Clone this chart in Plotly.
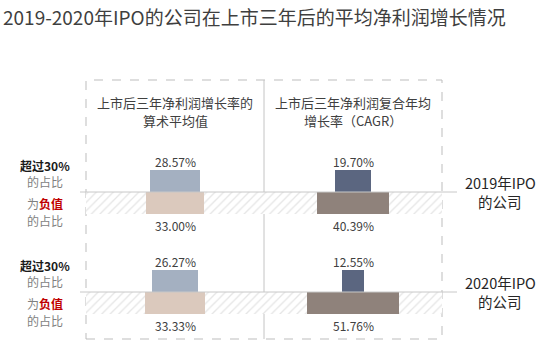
import plotly.graph_objects as go

# --- data -------------------------------------------------------------
columns = [["上市后三年净利润增长率的", "算术平均值"],
           ["上市后三年净利润复合年均", "增长率（CAGR）"]]
rows = [["2019年IPO", "的公司"], ["2020年IPO", "的公司"]]
share_over_30 = [[28.57, 19.70], [26.27, 12.55]]   # 超过30%的占比
share_negative = [[33.00, 40.39], [33.33, 51.76]]  # 为负值的占比

title = "2019-2020年IPO的公司在上市三年后的平均净利润增长情况"

# --- styling ----------------------------------------------------------
top_colors = ["#a4b0c1", "#5b6680"]
bottom_colors = ["#dbc9bd", "#8f827b"]
FONT = "Noto Sans CJK SC, Microsoft YaHei, sans-serif"
TEXT = "#404040"

W, H = 550, 345
PX_PER_UNIT = 1.78          # horizontal pixels per percentage point
X0_PX = 86                  # left edge of the framed panel
col_centers = [50, 150]     # each column is 100 units wide
baselines = [153, 53]       # y measured in pixels from the bottom
BAR_H = 22

fig = go.Figure()

# hatched strip for the "negative" band of each row
for b in baselines:
    fig.add_trace(go.Bar(
        x=[100], y=[BAR_H], base=[b - BAR_H], width=[200],
        marker=dict(color="white", line=dict(width=0),
                    pattern=dict(shape="/", fgcolor="#cccccc", bgcolor="white",
                                 size=6, solidity=0.22)),
        hoverinfo="skip", showlegend=False))

# proportional-width bars
for r, b in enumerate(baselines):
    for c, xc in enumerate(col_centers):
        v_top = share_over_30[r][c]
        v_bot = share_negative[r][c]
        fig.add_trace(go.Bar(
            x=[xc], y=[BAR_H], base=[b], width=[v_top],
            marker=dict(color=top_colors[c], line=dict(width=0)),
            hoverinfo="skip", showlegend=False))
        fig.add_trace(go.Bar(
            x=[xc], y=[BAR_H], base=[b - BAR_H], width=[v_bot],
            marker=dict(color=bottom_colors[c], line=dict(width=0)),
            hoverinfo="skip", showlegend=False))
        fig.add_annotation(x=xc, y=b + 31, text=f"{v_top:.2f}%", showarrow=False,
                           font=dict(size=12, color=TEXT, family=FONT),
                           xanchor="center", yanchor="middle", borderpad=0)
        fig.add_annotation(x=xc, y=b - 33, text=f"{v_bot:.2f}%", showarrow=False,
                           font=dict(size=12, color=TEXT, family=FONT),
                           xanchor="center", yanchor="middle", borderpad=0)

def to_x(px):
    return (px - X0_PX) / PX_PER_UNIT

shapes = []
# framed panel (dashed) and column divider
panel_top, panel_bot = H - 80, H - 339
shapes.append(dict(type="rect", xref="x", yref="y", x0=0, x1=200, y0=panel_bot, y1=panel_top,
                   line=dict(color="#bdbdbd", width=1, dash="dash"), layer="below"))
shapes.append(dict(type="line", xref="x", yref="y", x0=100, x1=100, y0=panel_bot, y1=panel_top,
                   line=dict(color="#c4c4c4", width=1), layer="below"))
for b in baselines:
    shapes.append(dict(type="line", xref="x", yref="y", x0=to_x(80), x1=to_x(457), y0=b, y1=b,
                       line=dict(color="#c8c8c8", width=1), layer="above"))

# column headers, one annotation per line
for xc, (h1, h2) in zip(col_centers, columns):
    fig.add_annotation(x=xc, y=H - 102, text=h1, showarrow=False,
                       font=dict(size=13, color=TEXT, family=FONT),
                       xanchor="center", yanchor="middle", borderpad=0)
    fig.add_annotation(x=xc, y=H - 120, text=h2, showarrow=False,
                       font=dict(size=13, color=TEXT, family=FONT),
                       xanchor="center", yanchor="middle", borderpad=0)

# left-hand legend text and right-hand row labels
for b, (l1, l2) in zip(baselines, rows):
    left = [
        (b + 27, "<b>超过30%</b>", "#1a1a1a"),
        (b + 11, "的占比", "#7f7f7f"),
        (b - 11, "为<b><span style='color:#c00000'>负值</span></b>", "#7f7f7f"),
        (b - 28, "的占比", "#7f7f7f"),
    ]
    for y, t, col in left:
        fig.add_annotation(x=to_x(45), y=y, text=t, showarrow=False,
                           font=dict(size=12, color=col, family=FONT),
                           xanchor="center", yanchor="middle", borderpad=0)
    fig.add_annotation(x=to_x(500), y=b + 10, text=l1, showarrow=False,
                       font=dict(size=14.5, color="#262626", family=FONT),
                       xanchor="center", yanchor="middle", borderpad=0)
    fig.add_annotation(x=to_x(500), y=b - 9, text=l2, showarrow=False,
                       font=dict(size=14.5, color="#262626", family=FONT),
                       xanchor="center", yanchor="middle", borderpad=0)

fig.add_annotation(xref="paper", yref="y", x=0.004, y=H - 16, text=title, showarrow=False,
                   font=dict(size=19, color="#3f3f3f", family=FONT),
                   xanchor="left", yanchor="middle", borderpad=0)

fig.update_layout(
    width=W, height=H, margin=dict(l=0, r=0, t=0, b=0),
    paper_bgcolor="white", plot_bgcolor="white",
    barmode="overlay", bargap=0,
    shapes=shapes,
    xaxis=dict(range=[to_x(0), to_x(W)], visible=False, fixedrange=True),
    yaxis=dict(range=[0, H], visible=False, fixedrange=True),
    showlegend=False,
)

fig.write_html("out.html")
